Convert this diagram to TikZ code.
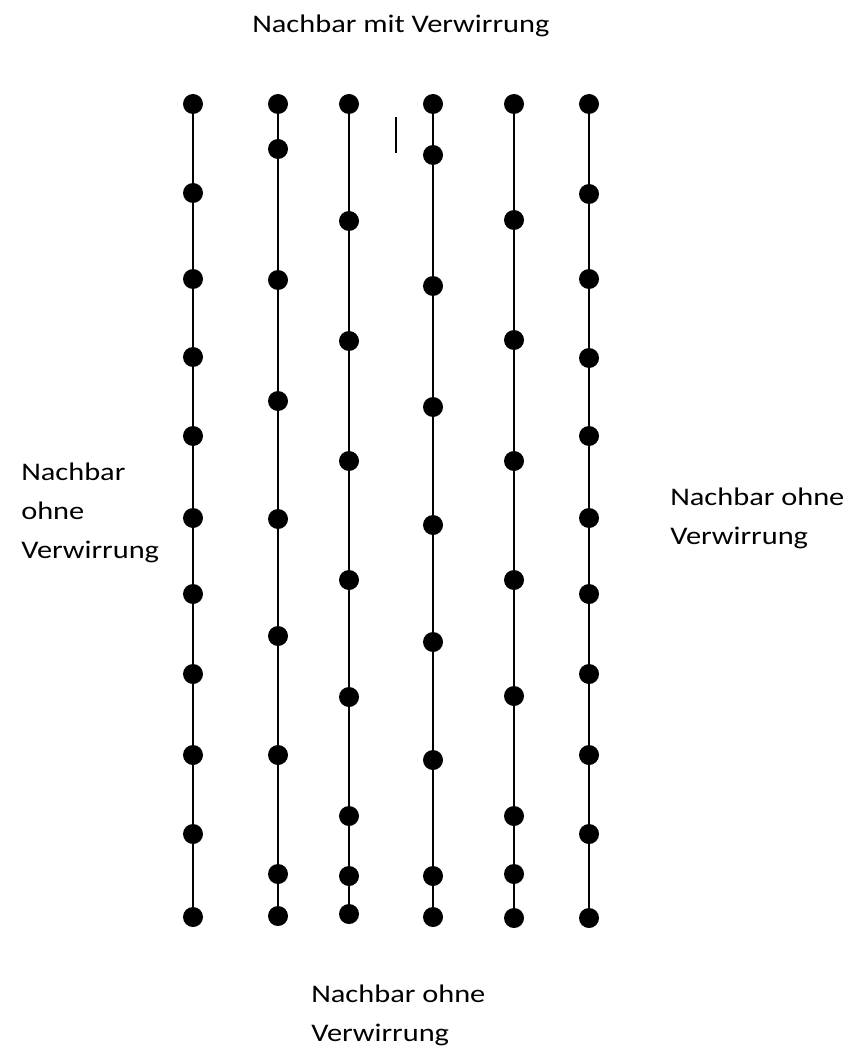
\documentclass[tikz,border=0pt]{standalone}
\usepackage{fontspec}
\setmainfont{Carlito}[FakeStretch=1.2]
\begin{document}
\begin{tikzpicture}[x=0.75pt,y=-0.75pt,
    punkt/.style={circle,fill=black,inner sep=0pt,minimum size=15pt},
    strang/.style={line width=1.5pt},
    beschr/.style={font=\fontsize{19pt}{29pt}\selectfont,inner sep=0pt,anchor=north west,align=left}]
  \useasboundingbox (0,0) rectangle (851,1048);
  % columns of dots
  \foreach \y [count=\i] in {104,193,279,357,436,518,594,674,755,834,917}
    \node[punkt] (a\i) at (193,\y) {};
  \foreach \y [count=\i] in {104,149,280,401,519,636,755,874,916}
    \node[punkt] (b\i) at (278,\y) {};
  \foreach \y [count=\i] in {104,221,341,461,580,697,816,876,914}
    \node[punkt] (c\i) at (349,\y) {};
  \foreach \y [count=\i] in {104,155,286,407,525,642,760,876,917}
    \node[punkt] (d\i) at (433,\y) {};
  \foreach \y [count=\i] in {104,220,340,461,580,696,816,874,918}
    \node[punkt] (e\i) at (514,\y) {};
  \foreach \y [count=\i] in {104,194,279,358,436,518,594,674,755,834,918}
    \node[punkt] (f\i) at (589,\y) {};
  \draw[strang] (a1.center) -- (a11.center);
  \draw[strang] (b1.center) -- (b9.center);
  \draw[strang] (c1.center) -- (c9.center);
  \draw[strang] (d1.center) -- (d9.center);
  \draw[strang] (e1.center) -- (e9.center);
  \draw[strang] (f1.center) -- (f11.center);
  % small mark
  \coordinate (s1) at (396,117);
  \coordinate (s2) at (396,153);
  \draw[line width=1.1pt] (s1) -- (s2);
  % labels
  \node[beschr] (oben) at (252,15) {Nachbar mit Verwirrung};
  \node[beschr] (links) at (21,463) {Nachbar\\ohne\\Verwirrung};
  \node[beschr] (rechts) at (670,488) {Nachbar ohne\\Verwirrung};
  \node[beschr] (unten) at (311,985) {Nachbar ohne\\Verwirrung};
\end{tikzpicture}
\end{document}
